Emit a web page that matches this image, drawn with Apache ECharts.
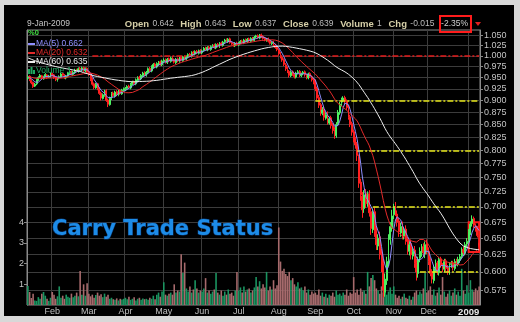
<!DOCTYPE html>
<html><head><meta charset="utf-8">
<script src="https://cdn.jsdelivr.net/npm/echarts@6.0.0/dist/echarts.min.js"></script>
<style>html,body{margin:0;padding:0;background:#d8d8d8;}#chart{width:520px;height:322px;}</style>
</head><body><div id="chart"></div>
<script>
// ---- data ----
const startDate = '2008-01-14';
const endDate = '2009-01-09';
// closes before the visible window (feed the moving averages only)
const priorCloses = [
 1.040,1.035,1.042,1.030,1.025,1.032,1.028,1.020,1.026,1.018,1.022,1.015,1.010,1.018,1.012,1.005,1.010,1.002,0.998,1.005,
 1.000,0.995,1.003,0.998,1.008,1.015,1.010,1.020,1.012,1.025,
 1.045,1.050,1.040,1.035,1.030,1.020,1.010,1.000,0.985,0.970,
 0.962,0.955,0.958,0.950,0.945,0.952,0.948,0.955,0.960,0.953,0.948,0.945,0.950,0.955,0.948,0.952,0.956,0.950,0.954
];
const opens = [
 0.948,0.953,0.944,0.939,0.931,0.936,0.944,0.951,0.954,0.947,0.953,0.956,0.951,0.952,
 0.959,0.956,0.951,0.944,0.949,0.951,0.959,0.956,0.949,0.954,0.959,0.964,0.957,0.961,0.968,0.964,0.971,0.967,0.973,0.965,0.971,
 0.963,0.959,0.946,0.936,0.927,0.936,0.926,0.916,0.904,0.911,0.921,0.901,0.891,0.904,0.916,0.909,0.919,0.911,0.921,0.914,0.921,
 0.924,0.926,0.931,0.927,0.936,0.941,0.936,0.944,0.951,0.947,0.954,0.961,0.955,0.961,0.971,0.965,0.974,0.981,0.974,0.981,0.986,0.979,
 0.987,0.991,0.984,0.993,0.987,0.996,0.991,0.984,0.993,0.987,0.996,0.989,0.998,0.992,0.997,1.004,0.999,1.009,1.004,1.011,1.006,1.013,
 1.007,1.013,1.019,1.014,1.021,1.015,1.023,1.026,1.019,1.028,1.022,1.031,1.025,1.034,1.039,1.034,1.041,1.031,1.029,1.024,1.031,
 1.026,1.031,1.036,1.031,1.039,1.034,1.041,1.035,1.043,1.037,1.046,1.049,1.043,1.051,1.047,1.043,1.037,1.041,1.036,1.029,1.033,1.026,1.021,
 1.014,1.006,0.997,0.991,0.979,0.971,0.964,0.954,0.963,0.957,0.951,0.961,0.964,0.954,0.959,0.963,0.955,0.949,0.959,0.952,0.946,
 0.942,0.926,0.906,0.891,0.873,0.881,0.863,0.872,0.853,0.864,0.849,0.840,0.828,0.852,0.874,0.894,0.900,0.906,0.899,0.886,0.866,0.852,
 0.836,0.822,0.812,0.788,0.742,0.718,0.697,0.722,0.703,0.722,0.692,0.663,0.692,0.662,0.638,0.652,0.627,0.612,0.572,0.588,0.613,0.648,0.666,
 0.687,0.702,0.688,0.677,0.658,0.670,0.653,0.664,0.647,0.630,0.642,0.623,0.632,0.614,0.598,0.620,0.628,0.637,0.626,0.642,
 0.630,0.616,0.600,0.588,0.604,0.613,0.599,0.619,0.609,0.604,0.616,0.606,0.599,0.611,0.613,0.605,0.616,0.611,0.617,0.623,0.633,0.627,0.641,
 0.646,0.659,0.673,0.681,0.669,0.666,0.642
];
const highs = [
 0.956,0.955,0.946,0.941,0.938,0.948,0.953,0.958,0.956,0.954,0.960,0.958,0.956,0.961,
 0.961,0.958,0.953,0.950,0.955,0.961,0.961,0.958,0.956,0.963,0.966,0.966,0.965,0.970,0.970,0.973,0.974,0.975,0.975,0.973,0.973,
 0.966,0.961,0.949,0.939,0.938,0.938,0.929,0.919,0.915,0.923,0.924,0.904,0.908,0.918,0.919,0.921,0.922,0.923,0.924,0.925,0.928,
 0.929,0.933,0.934,0.938,0.943,0.943,0.948,0.953,0.954,0.958,0.963,0.964,0.965,0.973,0.974,0.978,0.983,0.984,0.985,0.988,0.989,0.991,
 0.994,0.994,0.995,0.996,0.998,0.999,0.994,0.995,0.996,0.998,0.999,1.000,1.001,1.001,1.006,1.007,1.011,1.012,1.013,1.014,1.015,1.016,
 1.015,1.021,1.022,1.023,1.024,1.025,1.028,1.029,1.030,1.031,1.033,1.034,1.036,1.041,1.042,1.043,1.044,1.034,1.032,1.033,1.034,
 1.033,1.038,1.039,1.041,1.042,1.043,1.044,1.045,1.046,1.048,1.051,1.052,1.053,1.054,1.050,1.046,1.043,1.044,1.039,1.035,1.036,1.029,1.024,
 1.017,1.009,1.001,0.994,0.983,0.975,0.967,0.966,0.966,0.960,0.963,0.967,0.967,0.961,0.965,0.966,0.958,0.961,0.962,0.955,0.949,
 0.946,0.930,0.912,0.895,0.886,0.886,0.875,0.877,0.866,0.868,0.853,0.845,0.855,0.880,0.897,0.906,0.909,0.910,0.902,0.890,0.870,0.856,
 0.840,0.826,0.816,0.792,0.748,0.725,0.728,0.730,0.726,0.728,0.698,0.697,0.700,0.668,0.656,0.660,0.634,0.618,0.598,0.622,0.656,0.675,0.695,
 0.705,0.708,0.694,0.682,0.674,0.676,0.667,0.670,0.652,0.645,0.648,0.635,0.638,0.619,0.622,0.636,0.641,0.642,0.645,0.648,
 0.636,0.620,0.604,0.610,0.618,0.616,0.622,0.622,0.613,0.619,0.619,0.610,0.614,0.616,0.616,0.619,0.619,0.622,0.626,0.636,0.637,0.644,0.650,
 0.664,0.676,0.686,0.684,0.673,0.669,0.643
];
const lows = [
 0.945,0.942,0.935,0.927,0.929,0.933,0.942,0.949,0.945,0.945,0.950,0.947,0.949,0.950,
 0.952,0.947,0.942,0.941,0.946,0.949,0.952,0.947,0.946,0.951,0.956,0.955,0.954,0.958,0.962,0.961,0.965,0.964,0.963,0.962,0.958,
 0.954,0.942,0.932,0.924,0.925,0.922,0.912,0.900,0.902,0.908,0.897,0.886,0.889,0.901,0.907,0.906,0.909,0.909,0.912,0.912,0.918,
 0.920,0.923,0.925,0.924,0.933,0.934,0.933,0.941,0.945,0.944,0.951,0.953,0.952,0.958,0.963,0.962,0.971,0.972,0.971,0.978,0.977,0.976,
 0.983,0.982,0.981,0.985,0.984,0.987,0.982,0.981,0.985,0.984,0.987,0.986,0.990,0.989,0.994,0.997,0.996,1.002,1.001,1.004,1.003,1.005,
 1.004,1.010,1.012,1.011,1.013,1.012,1.020,1.017,1.016,1.020,1.019,1.023,1.022,1.031,1.032,1.031,1.029,1.025,1.022,1.021,1.024,
 1.023,1.028,1.029,1.028,1.032,1.031,1.033,1.032,1.035,1.034,1.043,1.041,1.040,1.043,1.039,1.035,1.034,1.032,1.027,1.026,1.022,1.017,1.011,
 1.001,0.994,0.986,0.976,0.965,0.960,0.950,0.951,0.954,0.948,0.948,0.957,0.951,0.951,0.955,0.952,0.946,0.946,0.949,0.941,0.935,
 0.920,0.900,0.884,0.868,0.869,0.858,0.860,0.850,0.850,0.842,0.832,0.822,0.824,0.848,0.870,0.888,0.896,0.893,0.880,0.860,0.845,0.828,
 0.815,0.803,0.780,0.732,0.710,0.682,0.690,0.698,0.700,0.684,0.655,0.658,0.652,0.632,0.632,0.618,0.600,0.565,0.566,0.582,0.608,0.640,0.660,
 0.680,0.685,0.668,0.652,0.652,0.648,0.648,0.640,0.625,0.624,0.618,0.618,0.606,0.588,0.592,0.614,0.622,0.622,0.620,0.626,
 0.610,0.594,0.584,0.584,0.600,0.596,0.595,0.606,0.600,0.600,0.601,0.596,0.596,0.606,0.602,0.602,0.609,0.608,0.613,0.619,0.624,0.624,0.636,
 0.643,0.655,0.668,0.666,0.660,0.651,0.637
];
const closes = [
 0.952,0.945,0.938,0.930,0.935,0.945,0.950,0.955,0.948,0.952,0.957,0.950,0.953,0.958,
 0.955,0.950,0.945,0.948,0.952,0.958,0.955,0.950,0.953,0.960,0.963,0.958,0.962,0.967,0.965,0.970,0.968,0.972,0.966,0.970,0.962,
 0.958,0.945,0.935,0.928,0.935,0.925,0.915,0.905,0.912,0.920,0.900,0.892,0.905,0.915,0.910,0.918,0.912,0.920,0.915,0.922,0.925,
 0.925,0.930,0.928,0.935,0.940,0.937,0.945,0.950,0.948,0.955,0.960,0.956,0.962,0.970,0.966,0.975,0.980,0.975,0.982,0.985,0.980,0.988,
 0.990,0.985,0.992,0.988,0.995,0.990,0.985,0.992,0.988,0.995,0.990,0.997,0.993,0.998,1.003,1.000,1.008,1.005,1.010,1.007,1.012,1.008,
 1.012,1.018,1.015,1.020,1.016,1.022,1.025,1.020,1.027,1.023,1.030,1.026,1.033,1.038,1.035,1.040,1.032,1.028,1.025,1.030,1.027,
 1.030,1.035,1.032,1.038,1.035,1.040,1.036,1.042,1.038,1.045,1.048,1.044,1.050,1.046,1.042,1.038,1.040,1.035,1.030,1.032,1.025,1.020,1.015,
 1.005,0.998,0.990,0.980,0.970,0.965,0.955,0.962,0.958,0.952,0.960,0.963,0.955,0.958,0.962,0.956,0.950,0.958,0.953,0.945,0.940,
 0.925,0.905,0.890,0.875,0.880,0.865,0.870,0.855,0.862,0.848,0.838,0.830,0.850,0.875,0.892,0.902,0.905,0.898,0.885,0.865,0.850,0.835,
 0.820,0.810,0.790,0.740,0.720,0.695,0.720,0.705,0.720,0.690,0.665,0.690,0.660,0.640,0.650,0.625,0.610,0.575,0.590,0.615,0.650,0.668,0.685,
 0.700,0.690,0.675,0.660,0.668,0.655,0.662,0.645,0.632,0.640,0.625,0.630,0.612,0.600,0.618,0.630,0.635,0.628,0.640,0.632,
 0.615,0.598,0.590,0.605,0.612,0.600,0.618,0.610,0.605,0.615,0.605,0.600,0.610,0.612,0.606,0.615,0.612,0.618,0.622,0.632,0.628,0.640,0.645,
 0.660,0.672,0.680,0.670,0.665,0.654,0.639
];
const volumes = [
 0.92,0.63,0.34,0.55,0.22,0.2,0.38,0.3,0.55,0.63,0.45,0.3,0.2,0.35,
 0.63,0.5,0.3,0.42,0.9,0.35,0.45,0.3,0.5,0.4,0.35,0.55,0.38,0.45,0.6,0.42,1.65,0.5,1.0,0.45,1.05,
 0.55,0.42,0.5,0.35,0.48,0.6,0.45,0.52,0.38,0.55,0.4,0.5,0.3,0.35,0.28,0.25,0.32,0.22,0.3,0.26,0.3,
 0.35,0.28,0.4,0.25,0.3,0.38,0.22,0.3,0.35,0.25,0.32,0.28,0.3,0.25,0.35,0.3,0.45,0.28,0.5,0.6,0.4,0.65,
 1.1,0.5,0.45,0.55,0.6,0.5,1.0,0.6,0.7,0.65,2.45,1.55,2.05,0.8,0.65,0.9,0.6,0.75,1.2,0.8,0.6,0.7,
 0.65,0.8,1.3,0.6,0.7,0.55,0.65,0.75,1.55,0.6,0.5,0.7,0.45,0.65,0.5,0.75,0.55,0.6,0.45,0.7,1.6,
 0.7,0.85,0.6,0.9,0.65,0.75,0.8,0.6,0.7,0.85,1.35,0.9,1.15,0.8,1.0,0.85,1.6,0.7,0.9,0.75,1.2,0.8,0.95,
 3.75,2.1,1.65,1.75,1.5,1.4,1.6,1.2,1.3,1.0,0.9,1.1,0.8,0.85,0.7,0.9,0.6,0.75,0.5,0.65,0.55,
 0.6,0.5,0.75,0.45,0.6,0.4,0.55,0.35,0.5,0.45,0.6,0.4,0.7,0.5,0.55,0.45,0.6,0.5,0.75,0.45,0.6,0.55,
 1.35,0.6,0.75,0.5,0.8,0.65,0.7,0.55,1.6,0.9,1.3,1.45,1.2,0.8,0.7,0.55,0.9,0.6,0.75,0.5,0.65,0.85,0.55,
 0.9,0.5,0.35,0.45,0.3,0.4,0.55,0.35,0.3,0.45,0.25,0.4,0.6,0.7,0.5,0.65,0.55,0.8,1.55,0.6,
 0.7,0.9,0.5,0.75,0.45,0.6,0.85,0.5,1.35,0.65,0.4,0.55,0.7,0.45,0.6,0.8,0.5,0.65,0.45,1.75,0.7,0.55,0.95,
 0.6,1.2,0.75,0.65,0.8,0.7,0.9
];
const priceTicks = [0.575,0.600,0.625,0.650,0.675,0.700,0.725,0.750,0.775,0.800,0.825,0.850,0.875,0.900,0.925,0.950,0.975,1.000,1.025,1.050];
const volumeTicks = [1,2,3,4];
const priceExtent = [0.555, 1.063];
const volumeExtent = [0, 13.3];
const refLinePrices = [1.000, 0.900, 0.800, 0.700, 0.600];
const refLineStarts = ['2008-03-05','2008-09-01','2008-10-03','2008-10-16','2008-11-24'];
const boxDates = ['2009-01-01','2009-01-09'];
const boxPrices = [0.675, 0.629];
const maPeriods = [5, 20, 60];
const maLabels = ['MA(5) 0.662','MA(20) 0.632','MA(60) 0.635'];
const volumeLabel = 'Volume 1';
const quoteDate = '9-Jan-2009';
const quoteNames = ['Open','High','Low','Close','Volume','Chg'];
const quoteValues = ['0.642','0.643','0.637','0.639','1','-0.015'];
const quotePct = '-2.35%';
const monthNames = ['Jan','Feb','Mar','Apr','May','Jun','Jul','Aug','Sep','Oct','Nov','Dec'];
const chartTitle = 'Carry Trade Status';

// ---- build ----
function weekdays(a, b) {
  const out = []; let d = new Date(a + 'T00:00:00Z'); const e = new Date(b + 'T00:00:00Z');
  while (d <= e) { const w = d.getUTCDay(); if (w > 0 && w < 6) out.push(d.toISOString().slice(0, 10)); d = new Date(d.getTime() + 86400000); }
  return out;
}
const dates = weekdays(startDate, endDate);
const isMonthStart = (i) => i > 0 && dates[i].slice(0, 7) !== dates[i - 1].slice(0, 7);
const allCloses = priorCloses.concat(closes);
function movingAverage(n) {
  const p = priorCloses.length, out = [];
  for (let i = 0; i < closes.length; i++) { let s = 0; for (let k = p + i - n + 1; k <= p + i; k++) s += allCloses[k]; out.push(Math.log(s / n)); }
  return out;
}
const L = Math.log;
const candleData = closes.map((c, i) => [L(opens[i]), L(c), L(lows[i]), L(highs[i])]);
const FONT = '"Liberation Sans", Arial, sans-serif';
const maColors = ['#8f8fff', '#e42a2a', '#efefef'];
const lastDate = dates[dates.length - 1];

const chart = echarts.init(document.getElementById('chart'), null, { renderer: 'canvas' });
let header = '';
quoteNames.forEach((n, k) => { header += '{l|' + n + '} {v|' + quoteValues[k] + '}  '; });
header += '{p|' + quotePct + '}';

const graphic = [
  { type: 'rect', z: -10, shape: { x: 4, y: 5, width: 510, height: 311 }, style: { fill: '#000' } },
  { type: 'text', z: 50, style: { x: 27, y: 24, text: quoteDate, fill: '#c4c4c4', font: '8.5px ' + FONT, verticalAlign: 'middle' } },
  { type: 'text', z: 50, style: { x: 468, y: 24, align: 'right', verticalAlign: 'middle', text: header,
      rich: { l: { fill: '#d6cfa8', fontWeight: 'bold', fontSize: 9.5, fontFamily: FONT },
              v: { fill: '#bcbcbc', fontSize: 8.5, fontFamily: FONT },
              p: { fill: '#d0d0d0', fontSize: 8.5, fontFamily: FONT } } } },
  { type: 'rect', z: 50, shape: { x: 440, y: 16, width: 31, height: 16 }, style: { fill: 'none', stroke: '#ff1c1c', lineWidth: 2 } },
  { type: 'polygon', z: 50, shape: { points: [[475, 22], [481, 22], [478, 26]] }, style: { fill: '#e02020' } },
  { type: 'text', z: 50, style: { x: 28, y: 33, text: '%0', fill: '#44e044', font: 'bold 7.5px ' + FONT, verticalAlign: 'middle' } },
  { type: 'text', z: 60, style: { x: 52, y: 230, text: chartTitle, font: 'bold 21px "DejaVu Sans"', fill: '#1d8ce8', stroke: '#0b3870', lineWidth: 1, verticalAlign: 'middle' } }
];
const legendY = [44, 53, 62];
maLabels.forEach((t, k) => {
  graphic.push({ type: 'line', z: 50, shape: { x1: 28, y1: legendY[k], x2: 35, y2: legendY[k] }, style: { stroke: maColors[k], lineWidth: 2 } });
  graphic.push({ type: 'text', z: 50, style: { x: 36, y: legendY[k], text: t, fill: maColors[k], font: '8.5px ' + FONT, verticalAlign: 'middle' } });
});
[[28, 69, 2], [30.5, 67, 2], [33, 70, 2]].forEach(r => graphic.push({ type: 'rect', z: 50, shape: { x: r[0], y: r[1], width: r[2], height: 74 - r[1] }, style: { fill: '#1faa60' } }));
graphic.push({ type: 'text', z: 50, style: { x: 36, y: 71, text: volumeLabel, fill: '#1fae62', font: '8.5px ' + FONT, verticalAlign: 'middle' } });

const option = {
  backgroundColor: '#d8d8d8',
  animation: false,
  graphic: graphic,
  grid: { left: 27, right: 40, top: 30, bottom: 17, show: true, borderColor: '#8a8a8a', borderWidth: 1, backgroundColor: 'transparent' },
  xAxis: {
    type: 'category', data: dates, boundaryGap: true,
    axisLine: { show: false }, axisTick: { show: false },
    axisLabel: { interval: (i) => isMonthStart(i), color: '#c0c0c0', fontSize: 9, fontFamily: FONT, margin: 2,
      formatter: (v) => { const m = +v.slice(5, 7); return m === 1 ? '{y|' + v.slice(0, 4) + '}' : monthNames[m - 1]; },
      rich: { y: { color: '#e8e8e8', fontWeight: 'bold', fontSize: 9.5, fontFamily: FONT } } },
    splitLine: { show: true, interval: (i) => isMonthStart(i), lineStyle: { color: '#3c3c3c', width: 1 } }
  },
  yAxis: [
    { type: 'value', position: 'right', min: L(priceExtent[0]), max: L(priceExtent[1]),
      axisLine: { show: true, lineStyle: { color: '#8a8a8a' } },
      axisTick: { show: true, length: 3, customValues: priceTicks.map(L), lineStyle: { color: '#8a8a8a' } },
      axisLabel: { customValues: priceTicks.map(L), formatter: (v) => Math.exp(v).toFixed(3), color: '#c4c4c4', fontSize: 9, fontFamily: FONT, margin: 4 },
      splitLine: { show: true, lineStyle: { color: '#3c3c3c', width: 1 } } },
    { type: 'value', position: 'left', min: volumeExtent[0], max: volumeExtent[1],
      axisLine: { show: true, lineStyle: { color: '#8a8a8a' } },
      axisTick: { show: true, length: 3, customValues: volumeTicks, lineStyle: { color: '#8a8a8a' } },
      axisLabel: { customValues: volumeTicks, color: '#c4c4c4', fontSize: 9, fontFamily: FONT, margin: 3 },
      splitLine: { show: false } }
  ],
  series: [
    { type: 'bar', name: 'Volume', yAxisIndex: 1, z: 1, barWidth: 1.6, silent: true,
      data: volumes.map((v, i) => ({ value: v, itemStyle: { color: closes[i] >= opens[i] ? '#1b9460' : '#a66a6c' } })) },
    { type: 'candlestick', name: 'Price', yAxisIndex: 0, z: 3, barWidth: 1.4, silent: true, data: candleData,
      itemStyle: { color: '#4cf060', color0: '#ff2020', borderColor: '#4cf060', borderColor0: '#ff2020', borderWidth: 1 },
      markLine: { silent: true, symbol: ['none', 'none'], label: { show: false }, animation: false,
        data: refLinePrices.map((p, k) => [
          { coord: [refLineStarts[k], L(p)], lineStyle: { color: k === 0 ? '#e31b1b' : '#e6e61a', width: 1.6, type: [6, 2, 2, 2] } },
          { coord: [lastDate, L(p)] }]) },
      markArea: { silent: true, itemStyle: { color: 'rgba(0,0,0,0)', borderColor: '#ff1c1c', borderWidth: 2 },
        data: [[{ coord: [boxDates[0], L(boxPrices[0])] }, { coord: [boxDates[1], L(boxPrices[1])] }]] } },
    ...maPeriods.map((n, k) => ({ type: 'line', name: 'MA' + n, yAxisIndex: 0, z: 5, silent: true, symbol: 'none',
      data: movingAverage(n), lineStyle: { color: maColors[k], width: 1 } }))
  ]
};
chart.setOption(option);
</script></body></html>
